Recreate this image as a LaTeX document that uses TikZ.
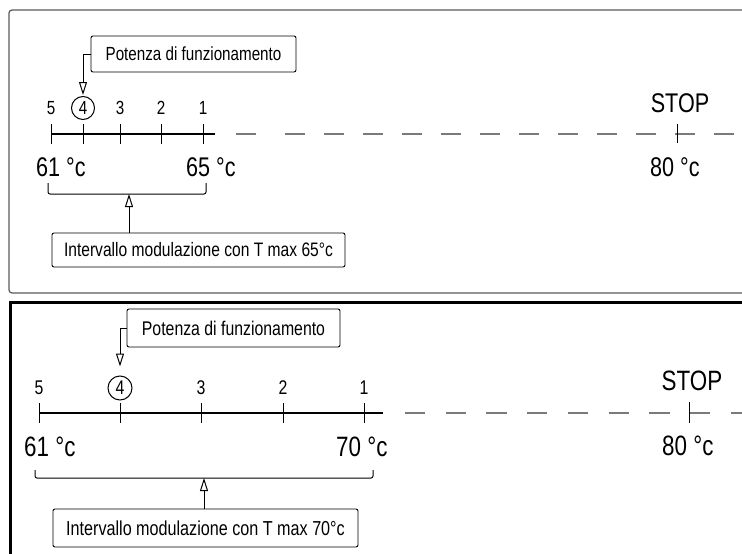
\documentclass[tikz,border=0pt]{standalone}
\usepackage{fontspec}
\setmainfont{Liberation Sans}[FakeStretch=0.8]
\usetikzlibrary{arrows.meta}
\definecolor{dashgray}{HTML}{7A7A7A}
\definecolor{framegray}{HTML}{5A5A5A}
\begin{document}
\begin{tikzpicture}[x=1pt,y=-1pt,
  num/.style={font=\fontsize{19}{21}\selectfont, inner sep=0pt},
  numb/.style={font=\fontsize{19.8}{22}\selectfont, inner sep=0pt},
  big/.style={font=\fontsize{27}{30}\selectfont, inner sep=0pt, anchor=west},
  bigb/.style={font=\fontsize{28}{31}\selectfont, inner sep=0pt, anchor=west},
  lbl/.style={draw, rounded corners=2pt, line width=0.9pt, inner sep=0pt, align=center},
  tickln/.style={line width=1pt},
  axisln/.style={line width=1.3pt},
  bracketln/.style={line width=1pt, rounded corners=2pt},
  lead/.style={line width=1pt, -{Triangle[open,length=13pt,width=8pt,line width=1pt]}},
  circ/.style={circle, draw, line width=1pt, minimum size=23pt},
]
\useasboundingbox (0,0) rectangle (742,554);
\clip (0,0) rectangle (742,554);

% ---------- top panel ----------
\draw[framegray, line width=1.2pt, rounded corners=3pt] (9,10) rectangle (780,293);

\node[num] (t5) at (51,108) {5};
\node[num,circ] (t4) at (83,108) {4};
\node[num] (t3) at (120,108) {3};
\node[num] (t2) at (161,108) {2};
\node[num] (t1) at (203,108) {1};

\draw[axisln] (51,134) -- (215,134);
\foreach \x in {51,83,120,161,203} \draw[tickln] (\x,124) -- (\x,144);
\draw[dashgray, line width=1.6pt, dash pattern=on 20pt off 29pt on 20pt off 19pt on 20pt off 19pt on 20pt off 19pt on 20pt off 19pt on 20pt off 19pt on 20pt off 19pt on 20pt off 19pt on 20pt off 19pt on 20pt off 19pt on 20pt off 19pt on 20pt off 19pt on 20pt off 19pt] (236,134) -- (760,134);
\draw[tickln] (677,124) -- (677,143);

\node[big, anchor=center] (stop1) at (680,103) {STOP};
\node[big] (a61) at (36,167) {61 °c};
\node[big] (a65) at (186,167) {65 °c};
\node[big] (a80) at (650,167) {80 °c};

\node[lbl, minimum width=205pt, minimum height=36pt, font=\fontsize{19}{21}\selectfont] (pot1) at (193.5,54) {Potenza di funzionamento};
\draw[lead, shorten >=1pt] (pot1.west) -| (t4.north);

\coordinate (br1a) at (48,183);
\coordinate (br1b) at (206,183);
\coordinate (br1m) at (129,194);
\draw[bracketln] (br1a) |- (br1m) -| (br1b);
\node[lbl, minimum width=293pt, minimum height=34pt, font=\fontsize{19.5}{22}\selectfont] (int1) at (198.5,250) {Intervallo modulazione con T max 65°c};
\draw[lead] (br1m |- int1.north) -- (br1m);

% ---------- bottom panel ----------
\draw[black, line width=3pt] (10,302) rectangle (780,600);

\node[numb] (b5) at (39,388) {5};
\node[numb,circ, minimum size=24pt] (b4) at (120,388) {4};
\node[numb] (b3) at (201,388) {3};
\node[numb] (b2) at (283,388) {2};
\node[numb] (b1) at (364,388) {1};

\draw[axisln] (39,413) -- (383,413);
\foreach \x in {39,120,201,283,364} \draw[tickln] (\x,403) -- (\x,423);
\draw[dashgray, line width=1.6pt, dash pattern=on 20.3pt off 20.4pt] (405,413) -- (760,413);
\draw[tickln] (689,402) -- (689,423);

\node[bigb, anchor=center] (stop2) at (692,381) {STOP};
\node[bigb] (b61) at (24,447) {61 °c};
\node[bigb] (b70) at (336,447) {70 °c};
\node[bigb] (b80) at (662,446) {80 °c};

\node[lbl, minimum width=213pt, minimum height=38pt, font=\fontsize{19.8}{22}\selectfont] (pot2) at (233.5,328) {Potenza di funzionamento};
\draw[lead, shorten >=9pt] (pot2.west) -| (b4.north);

\coordinate (br2a) at (35,470);
\coordinate (br2b) at (373,470);
\coordinate (br2m) at (204,478);
\draw[bracketln] (br2a) |- (br2m) -| (br2b);
\node[lbl, minimum width=305pt, minimum height=38pt, font=\fontsize{20.2}{23}\selectfont] (int2) at (205.5,528) {Intervallo modulazione con T max 70°c};
\draw[lead] (br2m |- int2.north) -- (br2m);
\end{tikzpicture}
\end{document}
